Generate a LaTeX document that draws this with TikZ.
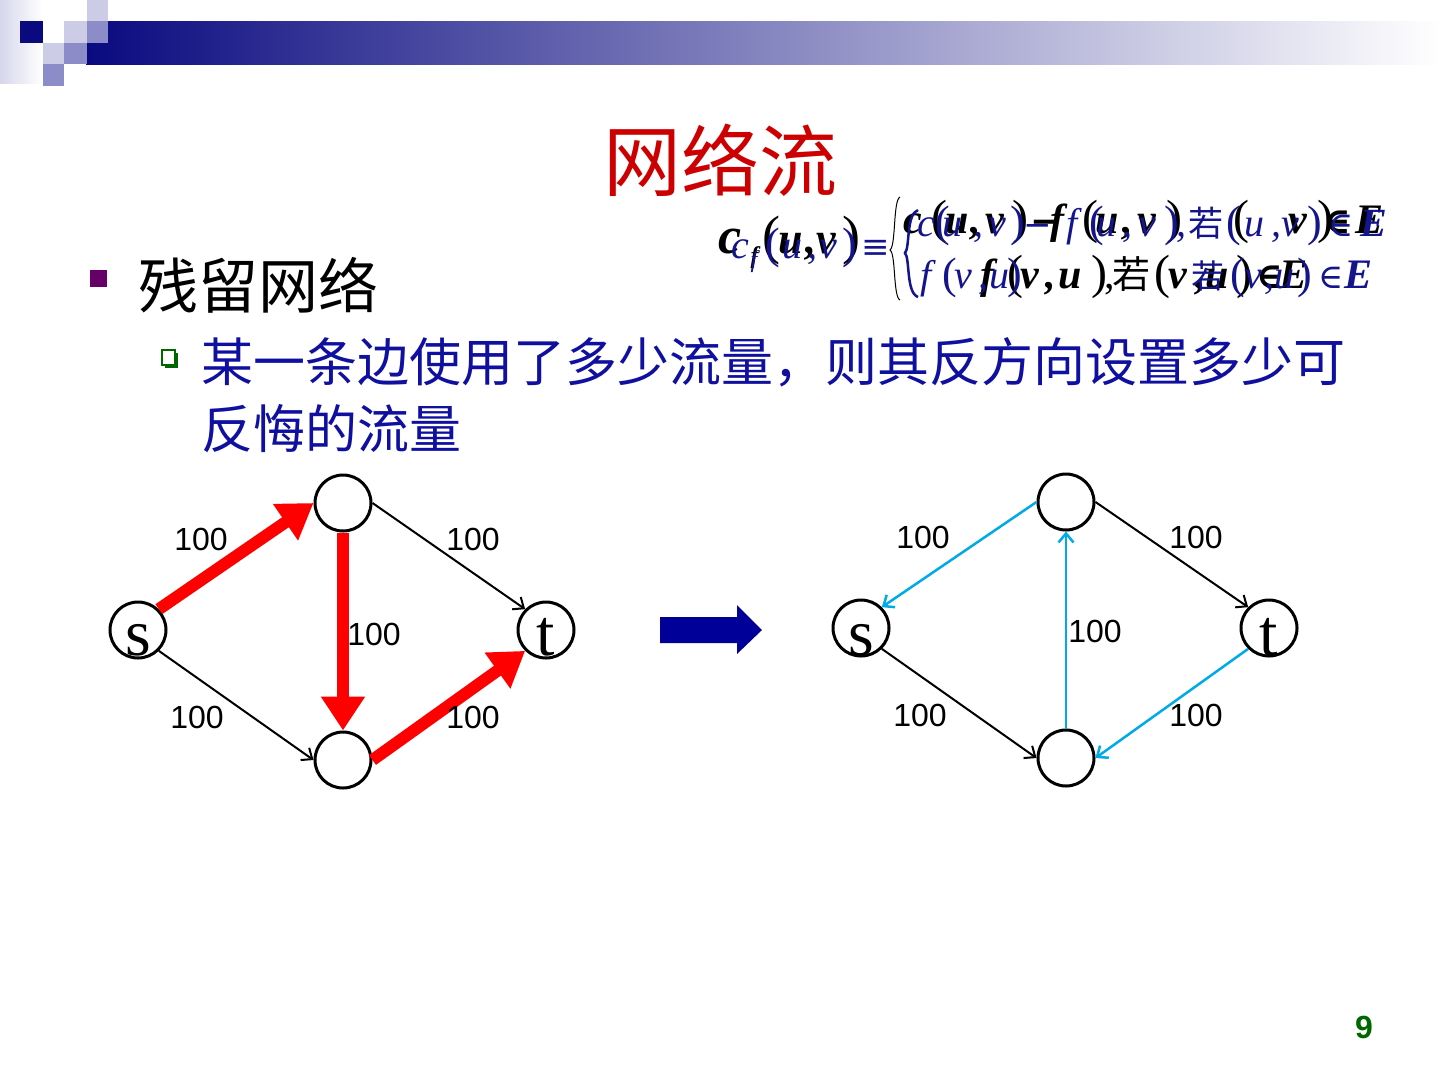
\documentclass[tikz,border=0pt]{standalone}
\usepackage{fontspec}
\setmainfont{Liberation Serif}
\newfontfamily\tnr{Liberation Serif}
\newfontfamily\ars{Liberation Sans}
\newfontfamily\cjk{Noto Sans CJK SC}
\newfontfamily\djs{DejaVu Serif}
\usetikzlibrary{arrows.meta,calc}
\definecolor{hdnavy}{RGB}{10,10,128}
\definecolor{lav}{RGB}{204,204,230}
\definecolor{lavm}{RGB}{140,140,200}
\definecolor{lavs}{RGB}{214,214,236}
\definecolor{titlered}{RGB}{204,0,0}
\definecolor{bulpurple}{RGB}{102,0,102}
\definecolor{subblue}{RGB}{16,16,160}
\definecolor{dkgreen}{RGB}{0,102,0}
\definecolor{blkarrow}{RGB}{0,0,153}
\definecolor{cyanedge}{RGB}{0,170,230}
\definecolor{fblue}{RGB}{20,20,140}
\newcommand\fsz[1]{\fontsize{#1}{#1}\selectfont}
\newcommand\putat[2]{\rlap{\hspace*{#1pt}#2}}
% black formula pieces
\newcommand\bp[1]{{\normalfont\tnr\fsz{48}#1}}
\newcommand\bl[1]{{\tnr\bfseries\itshape#1}}
\newcommand\bsym[1]{{\djs\bfseries\fsz{36}#1}}
% blue formula pieces
\newcommand\up[1]{{\normalfont\tnr\fsz{44}#1}}
\newcommand\ul[1]{{\tnr\itshape#1}}
\newcommand\usym[1]{{\djs\fsz{34}#1}}
\tikzset{
  gnode/.style={circle,draw,line width=3pt,minimum size=56pt,inner sep=0pt},
  letter/.style={anchor=base,inner sep=0pt,font=\tnr\fsz{66}},
  lbl/.style={inner sep=0pt,font=\ars\fsz{32}},
  flowedge/.style={draw=red,line width=12pt,-{Triangle[length=34pt,width=42pt]}},
  plainedge/.style={draw=black,line width=2pt,-{Straight Barb[length=9pt,width=15pt]}},
  resedge/.style={draw=cyanedge,line width=2.5pt,-{Straight Barb[length=9pt,width=15pt]}},
  fpiece/.style={anchor=base west,inner sep=0pt}
}
\begin{document}
\begin{tikzpicture}[x=1pt,y=-1pt]
\useasboundingbox (0,0) rectangle (1440,1080);
\fill[white] (0,0) rectangle (1440,1080);
% header decoration
\shade[left color=lavs,right color=white] (0,0) rectangle (42,83);
\shade[left color=hdnavy,right color=white] (86,21) rectangle (1440,64);
\fill[hdnavy] (20,21) rectangle (43,43);
\fill[lav] (87,0) rectangle (108,21);
\fill[lav] (64,21) rectangle (87,43);
\fill[lavm] (87,21) rectangle (108,43);
\fill[lav] (43,43) rectangle (64,64);
\fill[lavm] (64,43) rectangle (87,64);
\fill[lavm] (43,64) rectangle (64,86);
% title
\node[anchor=base,inner sep=0pt,font=\cjk\fsz{78},text=titlered] (title) at (720,190) {网络流};
% bullets
\fill[bulpurple] (90,270) rectangle (107,287);
\node[anchor=base west,inner sep=0pt,font=\cjk\fsz{60}] (b1) at (138,308) {残留网络};
\fill[dkgreen] (165,353) rectangle (178,368);
\filldraw[fill=white,draw=dkgreen,line width=2pt] (162,350) rectangle (175,365);
\node[anchor=base west,inner sep=0pt,font=\cjk\fsz{52},text=subblue] (b2a) at (201,381) {某一条边使用了多少流量，则其反方向设置多少可};
\node[anchor=base west,inner sep=0pt,font=\cjk\fsz{52},text=subblue] (b2b) at (201,448) {反悔的流量};
% formula, black rendering
\node[fpiece,font=\fsz{44}] (fbl) at (0,253) {%
\putat{718}{\bl{\fsz{52}c}}\putat{750}{\raisebox{-10pt}{\bl{\fsz{24}f}}}\putat{762}{\bp{\fsz{54}(}}%
\putat{778}{\bl{u}}\putat{805}{\bl{,}}\putat{816}{\bl{v}}\putat{842}{\bp{\fsz{54})}}};
\node[fpiece,font=\fsz{42}] (fb1) at (0,233) {%
\putat{903}{\bl{c}}\putat{931}{\bp{(}}\putat{945}{\bl{u}}\putat{970}{\bl{,}}\putat{985}{\bl{v}}\putat{1012}{\bp{)}}%
\putat{1030}{\bsym{−}}\putat{1050}{\bl{f}}\putat{1082}{\bp{(}}\putat{1095}{\bl{u}}\putat{1122}{\bl{,}}\putat{1137}{\bl{v}}\putat{1166}{\bp{)}}%
\putat{1233}{\bp{(}}\putat{1288}{\bl{v}}\putat{1317}{\bp{)}}\putat{1324}{\bsym{∈}}\putat{1355}{\bl{E}}};
\node[fpiece,font=\fsz{42}] (fb2) at (0,288) {%
\putat{980}{\bl{f}}\putat{1007}{\bp{(}}\putat{1020}{\bl{v}}\putat{1045}{\bl{,}}\putat{1058}{\bl{u}}\putat{1091}{\bp{)}}%
\putat{1104}{{\normalfont\tnr ,}}\putat{1112}{{\cjk\fsz{38}若}}\putat{1154}{\bp{(}}\putat{1168}{\bl{v}}\putat{1195}{\bl{,}}\putat{1205}{\bl{u}}%
\putat{1236}{\bp{)}}\putat{1256}{\bsym{∈}}\putat{1279}{\bl{E}}};
\draw[line width=1pt] (900,197) .. controls (893,200) and (896,246) .. (890,250) .. controls (896,254) and (893,297) .. (900,300);
% formula, blue rendering
\node[fpiece,font=\fsz{40},text=fblue] (ful) at (0,258) {%
\putat{731}{\ul{c}}\putat{750}{\raisebox{-9pt}{\ul{\fsz{24}f}}}\putat{765}{\up{(}}\putat{782}{\ul{u}}\putat{807}{\ul{,}}%
\putat{819}{\ul{v}}\putat{842}{\up{)}}\putat{861}{\usym{≡}}};
\node[fpiece,font=\fsz{40},text=fblue] (fu1) at (0,236) {%
\putat{917}{\ul{c}}\putat{935}{\up{(}}\putat{942}{\ul{u}}\putat{973}{\ul{,}}\putat{988}{\ul{v}}\putat{1010}{\up{)}}%
\putat{1023}{\usym{−}}\putat{1066}{\ul{f}}\putat{1089}{\up{(}}\putat{1096}{\ul{u}}\putat{1122}{\ul{,}}\putat{1138}{\ul{v}}\putat{1164}{\up{)}}%
\putat{1176}{\ul{,}}\putat{1188}{{\cjk\fsz{35}若}}\putat{1226}{\up{(}}\putat{1244}{\ul{u}}\putat{1271}{\ul{,}}\putat{1281}{\ul{v}}%
\putat{1307}{\up{)}}\putat{1328}{\usym{∈}}\putat{1360}{{\tnr\bfseries\itshape E}}};
\node[fpiece,font=\fsz{40},text=fblue] (fu2) at (0,288) {%
\putat{920}{\ul{f}}\putat{942}{\up{(}}\putat{954}{\ul{v}}\putat{978}{\ul{,}}\putat{989}{\ul{u}}\putat{1007}{\up{)}}%
\putat{1191}{{\cjk\fsz{33}若}}\putat{1230}{\up{(}}\putat{1244}{\ul{v}}\putat{1264}{\ul{,}}\putat{1274}{\ul{u}}\putat{1297}{\up{)}}%
\putat{1318}{\usym{∈}}\putat{1344}{{\tnr\bfseries\itshape\fsz{42}E}}};
\draw[fblue,line width=2.5pt] (918,210) .. controls (906,214) and (910,248) .. (905,253) .. controls (910,258) and (906,293) .. (918,297);
% left graph
\node[gnode] (ls) at (138,630) {};
\node[gnode] (ltop) at (343,503) {};
\node[gnode] (lt) at (546,630) {};
\node[gnode] (lbot) at (343,760) {};
\node[letter] (lsl) at ($(ls.center)+(0,25)$) {s};
\node[letter] (ltl) at ($(lt.center)+(0,25)$) {t};
\draw[plainedge] (ltop.east) -- (lt.north west);
\draw[plainedge] (ls.south east) -- (lbot.west);
\draw[flowedge] (ls.north east) -- (ltop.west);
\draw[flowedge] (ltop.south) -- (lbot.north);
\draw[flowedge] (lbot.east) -- (lt.south west);
\node[lbl] (la) at (201,539) {100};
\node[lbl] (lb) at (473,539) {100};
\node[lbl] (lc) at (374,634) {100};
\node[lbl] (ld) at (197,717) {100};
\node[lbl] (le) at (473,717) {100};
% block arrow
\fill[blkarrow] (660,617) -- (737,617) -- (737,605) -- (762,630) -- (737,654) -- (737,643) -- (660,643) -- cycle;
% right graph
\node[gnode] (rs) at (861,628) {};
\node[gnode] (rtop) at (1066,502) {};
\node[gnode] (rt) at (1269,628) {};
\node[gnode] (rbot) at (1066,758) {};
\node[letter] (rsl) at ($(rs.center)+(0,27)$) {s};
\node[letter] (rtl) at ($(rt.center)+(0,27)$) {t};
\draw[resedge] (rtop.west) -- (rs.north east);
\draw[plainedge] (rtop.east) -- (rt.north west);
\draw[plainedge] (rs.south east) -- (rbot.west);
\draw[resedge] (rbot.north) -- (rtop.south);
\draw[resedge] (rt.south west) -- (rbot.east);
\node[lbl] (ra) at (923,537) {100};
\node[lbl] (rb) at (1196,537) {100};
\node[lbl] (rc) at (1095,631) {100};
\node[lbl] (rd) at (920,715) {100};
\node[lbl] (re) at (1196,715) {100};
% page number
\node[anchor=base,inner sep=0pt,font=\ars\bfseries\fsz{32},text=dkgreen] (pg) at (1364,1038) {9};
\end{tikzpicture}
\end{document}
